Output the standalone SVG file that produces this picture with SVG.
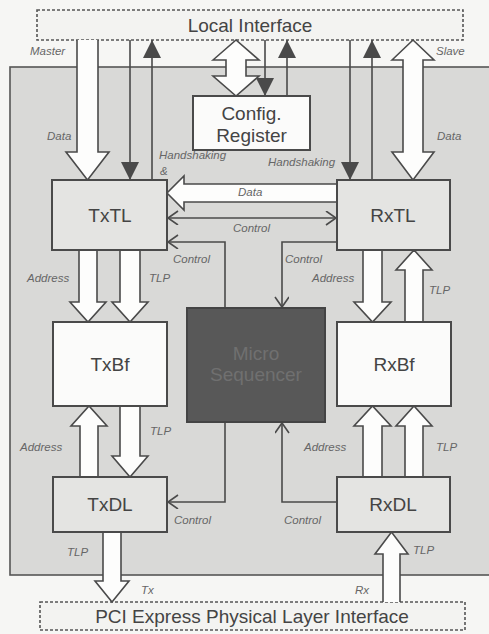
<svg xmlns="http://www.w3.org/2000/svg" width="489" height="634" viewBox="0 0 489 634">
<style>
.bg{fill:#f6f6f4}
.panel{fill:#d9d9d7;stroke:#555;stroke-width:1.6}
.iface{fill:#f3f3f1;stroke:#555;stroke-width:1.6;stroke-dasharray:3 2}
.blk{fill:#e4e4e2;stroke:#4a4a4a;stroke-width:2}
.wht{fill:#fbfbfa;stroke:#4a4a4a;stroke-width:2}
.dark{fill:#585858;stroke:#444;stroke-width:2}
.big{font-family:"Liberation Sans",Arial,sans-serif;font-size:19px;fill:#444;text-anchor:middle}
.lbl{font-family:"Liberation Sans",Arial,sans-serif;font-size:11.5px;font-style:italic;fill:#666}
.fat{fill:#fdfdfc;stroke:#4a4a4a;stroke-width:1.6;stroke-linejoin:miter}
.thin{fill:none;stroke:#4a4a4a;stroke-width:1.6}
.hs{marker-end:url(#fill)}
.ctl{marker-end:url(#vee)}
</style>
<defs>
<marker id="fill" markerUnits="userSpaceOnUse" markerWidth="20" markerHeight="20" refX="18" refY="9" orient="auto">
<path d="M0,0 L18,9 L0,18 Z" fill="#4a4a4a"/>
</marker>
<marker id="vee" markerUnits="userSpaceOnUse" markerWidth="14" markerHeight="16" refX="11" refY="7" orient="auto-start-reverse">
<path d="M1,0 L11,7 L1,14" fill="none" stroke="#4a4a4a" stroke-width="1.6"/>
</marker>
</defs>
<rect class="bg" x="0" y="0" width="489" height="634"/>
<rect class="panel" x="10" y="67" width="490" height="508"/>

<g id="local-interface">
<rect class="iface" x="37" y="10" width="426" height="30"/>
<text class="big" x="250" y="32">Local Interface</text>
</g>
<g id="pci-interface">
<rect class="iface" x="40" y="602" width="425" height="28"/>
<text class="big" x="252" y="623">PCI Express Physical Layer Interface</text>
</g>

<g id="connectors">
<path class="fat" d="M77,40 V152 H66 L87.5,180 L109,152 H98 V40"/>
<path class="fat" d="M392,60 L413,40 L434,60 H423 V152 H434 L413,180 L392,152 H403 V60 Z"/>
<path class="fat" d="M213,60 L236,40 L259,60 H246 V76 H259 L236,96 L213,76 H226 V60 Z"/>
<path class="fat" d="M337,184 H184 V176 L167,193 L184,210 V202 H337"/>
<path class="fat" d="M79,250 V302 H70 L88,322 L106,302 H97 V250"/>
<path class="fat" d="M120,250 V302 H112 L130,322 L148,302 H140 V250"/>
<path class="fat" d="M363,250 V302 H354 L372.5,322 L391,302 H382 V250"/>
<path class="fat" d="M405,322 V270 H396 L414,250 L432,270 H423 V322"/>
<path class="fat" d="M80,477 V426 H71 L89,406 L107,426 H98 V477"/>
<path class="fat" d="M120,406 V456 H112 L130,477 L148,456 H140 V406"/>
<path class="fat" d="M363,477 V426 H354 L372.5,406 L391,426 H382 V477"/>
<path class="fat" d="M405,477 V426 H396 L414,406 L432,426 H423 V477"/>
<path class="fat" d="M103,532 V581 H95 L112,602 L129,581 H121 V532"/>
<path class="fat" d="M383,602 V554 H375 L391.5,532 L408,554 H400 V602"/>
<path class="thin hs" d="M130,40 V180"/>
<path class="thin hs" d="M152,180 V40"/>
<path class="thin hs" d="M265,40 V96"/>
<path class="thin hs" d="M287,96 V40"/>
<path class="thin hs" d="M350,40 V180"/>
<path class="thin hs" d="M372,180 V40"/>
<path class="thin" d="M168,218 H336" marker-start="url(#vee)" marker-end="url(#vee)"/>
<path class="thin ctl" d="M225,308 V242 H168"/>
<path class="thin ctl" d="M337,242 H282 V307"/>
<path class="thin ctl" d="M225,422 V502 H168"/>
<path class="thin ctl" d="M337,502 H282 V423"/>
<text class="lbl" x="30" y="55">Master</text>
<text class="lbl" x="436" y="55">Slave</text>
<text class="lbl" x="47" y="140">Data</text>
<text class="lbl" x="437" y="140">Data</text>
<text class="lbl" x="159" y="159">Handshaking</text>
<text class="lbl" x="160" y="175">&amp;</text>
<text class="lbl" x="268" y="166">Handshaking</text>
<text class="lbl" x="238" y="196">Data</text>
<text class="lbl" x="233" y="232">Control</text>
<text class="lbl" x="173" y="263">Control</text>
<text class="lbl" x="285" y="263">Control</text>
<text class="lbl" x="27" y="282">Address</text>
<text class="lbl" x="149" y="282">TLP</text>
<text class="lbl" x="312" y="282">Address</text>
<text class="lbl" x="429" y="294">TLP</text>
<text class="lbl" x="150" y="435">TLP</text>
<text class="lbl" x="20" y="451">Address</text>
<text class="lbl" x="304" y="451">Address</text>
<text class="lbl" x="436" y="451">TLP</text>
<text class="lbl" x="174" y="524">Control</text>
<text class="lbl" x="284" y="524">Control</text>
<text class="lbl" x="67" y="556">TLP</text>
<text class="lbl" x="413" y="554">TLP</text>
<text class="lbl" x="141" y="594">Tx</text>
<text class="lbl" x="355" y="594">Rx</text>
</g>

<g id="config-register">
<rect class="wht" x="193" y="96" width="117" height="54"/>
<text class="big" x="251.5" y="120">Config.</text>
<text class="big" x="251.5" y="142">Register</text>
</g>
<g id="txtl">
<rect class="blk" x="52" y="180" width="115" height="70"/>
<text class="big" x="110" y="222">TxTL</text>
</g>
<g id="rxtl">
<rect class="blk" x="337" y="180" width="113" height="70"/>
<text class="big" x="393" y="222">RxTL</text>
</g>
<g id="txbf">
<rect class="wht" x="53" y="322" width="114" height="84"/>
<text class="big" x="110" y="371">TxBf</text>
</g>
<g id="micro-sequencer">
<rect class="dark" x="187" y="308" width="138" height="114"/>
<text class="big" x="256" y="360" style="fill:#707070">Micro</text>
<text class="big" x="256" y="381" style="fill:#707070">Sequencer</text>
</g>
<g id="rxbf">
<rect class="wht" x="337" y="322" width="114" height="84"/>
<text class="big" x="394" y="371">RxBf</text>
</g>
<g id="txdl">
<rect class="blk" x="53" y="477" width="114" height="55"/>
<text class="big" x="110" y="511">TxDL</text>
</g>
<g id="rxdl">
<rect class="blk" x="337" y="477" width="113" height="55"/>
<text class="big" x="393" y="511">RxDL</text>
</g>
</svg>
